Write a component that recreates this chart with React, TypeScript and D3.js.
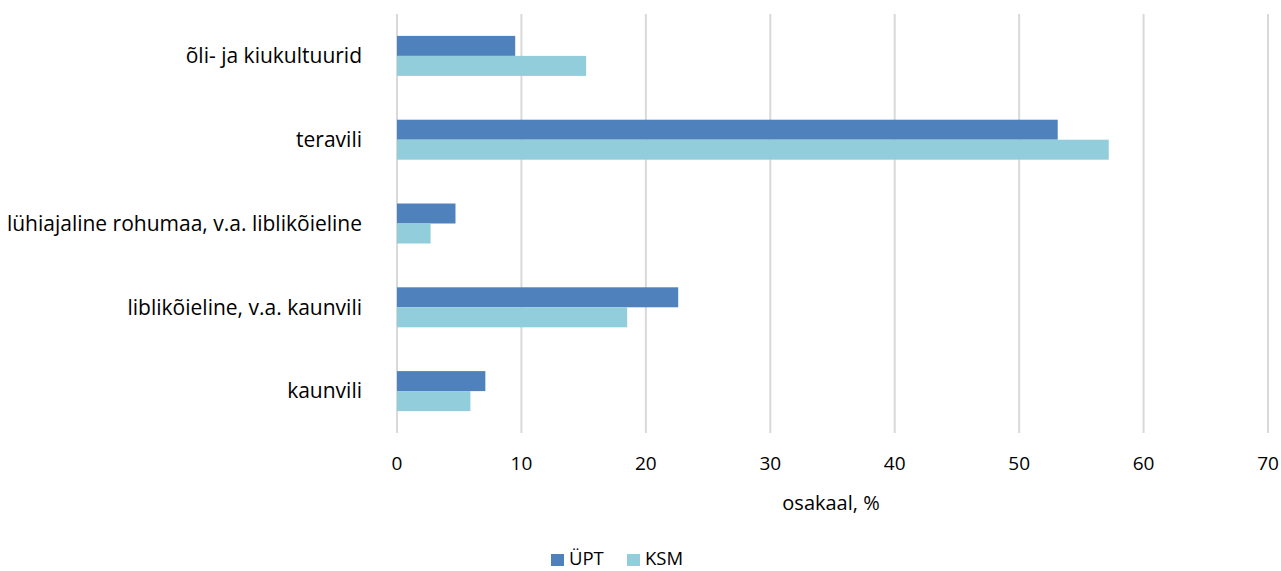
import React from "react";
import * as d3 from "d3";

const categories = [
  "õli- ja kiukultuurid",
  "teravili",
  "lühiajaline rohumaa, v.a. liblikõieline",
  "liblikõieline, v.a. kaunvili",
  "kaunvili",
];
const seriesNames = ["ÜPT", "KSM"];
const uptValues = [9.5, 53.1, 4.7, 22.6, 7.1];
const ksmValues = [15.2, 57.2, 2.7, 18.5, 5.9];
const xTicks = [0, 10, 20, 30, 40, 50, 60, 70];
const axisTitle = "osakaal, %";

const colors = ["#4F81BD", "#92CDDC"];
const FONT = "'Open Sans', 'Noto Sans', sans-serif";

export default function App() {
  const W = 1281;
  const H = 571;
  const left = 397;
  const right = 1268;
  const top = 14;
  const bottom = 433;

  const x = d3.scaleLinear().domain([0, 70]).range([left, right]);
  const y = d3.scaleBand<string>().domain(categories).range([top, bottom]).paddingInner(0).paddingOuter(0);
  const step = y.step();
  // each bar takes roughly a quarter of the category band
  const barH = step * (20 / 83.8);
  const series = [uptValues, ksmValues];

  return (
    <svg width={W} height={H} style={{ position: "absolute", left: 0, top: 0, background: "#fff" }}>
      {xTicks.map((t) => (
        <line key={"g" + t} x1={x(t)} x2={x(t)} y1={top} y2={bottom} stroke="#D9D9D9" strokeWidth={2} />
      ))}
      {categories.map((c, i) => {
        const cy = (y(c) ?? 0) + step / 2;
        return (
          <g key={c}>
            {series.map((vals, s) => (
              <rect
                key={s}
                x={x(0)}
                y={cy - barH + s * barH}
                width={x(vals[i]) - x(0)}
                height={barH}
                fill={colors[s]}
              />
            ))}
            <text x={362} y={cy} dy="0.35em" textAnchor="end" fontFamily={FONT} fontSize={21} fill="#000">
              {c}
            </text>
          </g>
        );
      })}
      {xTicks.map((t) => (
        <text key={"t" + t} x={x(t)} y={463} dy="0.35em" textAnchor="middle" fontFamily={FONT} fontSize={19} fill="#000">
          {t}
        </text>
      ))}
      <text x={831} y={503} dy="0.35em" textAnchor="middle" fontFamily={FONT} fontSize={20} fill="#000">
        {axisTitle}
      </text>
      <g>
        <rect x={551} y={554} width={13} height={12} fill={colors[0]} />
        <text x={569} y={565} fontFamily={FONT} fontSize={18.5} fill="#000">
          {seriesNames[0]}
        </text>
        <rect x={627} y={554} width={13} height={12} fill={colors[1]} />
        <text x={645} y={565} fontFamily={FONT} fontSize={18.5} fill="#000">
          {seriesNames[1]}
        </text>
      </g>
    </svg>
  );
}
